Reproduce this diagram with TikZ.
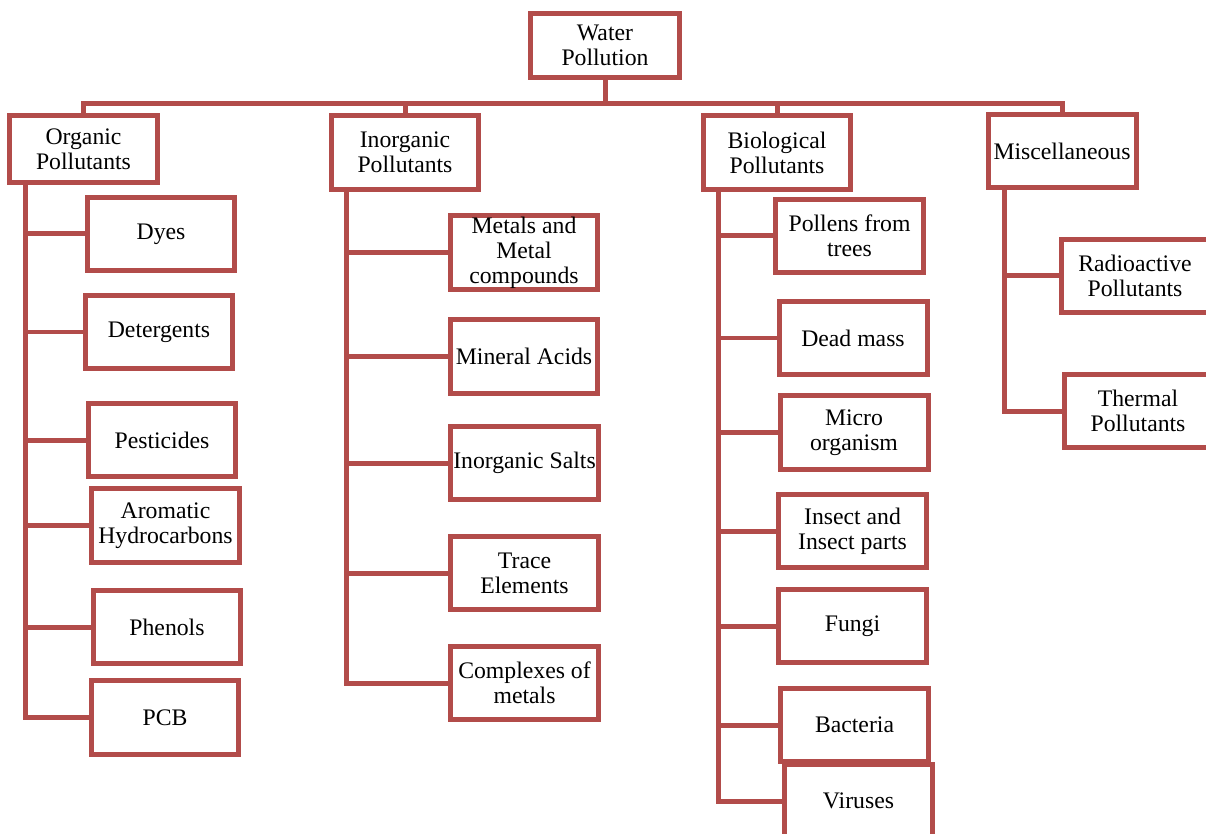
\documentclass[tikz,border=0pt]{standalone}
\usepackage{fontspec}
\setmainfont{Liberation Serif}
\begin{document}
\begin{tikzpicture}[x=0.02cm, y=-0.02cm, line width=0.1cm,
	box/.style={draw=pollred, fill=white, align=center, inner sep=0pt,
		minimum width=2.96cm, minimum height=1.48cm,
		font=\fontsize{13.5}{14.2}\selectfont},
	link/.style={draw=pollred}]
	\definecolor{pollred}{RGB}{178, 76, 74}

	\useasboundingbox (0,0) rectangle (1206,834);
	\clip (0,0) rectangle (1206,834);

	% root
	\node[box, minimum width=3cm, minimum height=1.3cm] (water) at (605,45.5) {Water\\Pollution};

	% groups
	\node[box, minimum height=1.36cm] (org) at (83.5,149) {Organic\\Pollutants};
	\node[box] (ino) at (405,152.5) {Inorganic\\Pollutants};
	\node[box] (bio) at (777,152.5) {Biological\\Pollutants};
	\node[box] (misc) at (1062,151) {Miscellaneous};

	% organic
	\node[box] (dyes) at (161,234) {Dyes};
	\node[box] (deterg) at (159,332) {Detergents};
	\node[box] (pest) at (162,440) {Pesticides};
	\node[box] (arom) at (165.5,525.5) {Aromatic\\Hydrocarbons};
	\node[box] (phen) at (167,627) {Phenols};
	\node[box] (pcb) at (165,717.5) {PCB};

	% inorganic
	\node[box] (metals) at (524,252.5) {Metals and\\Metal\\compounds};
	\node[box] (mineral) at (524,356.5) {Mineral Acids};
	\node[box] (salts) at (524.5,463) {Inorganic Salts};
	\node[box] (trace) at (524.5,573) {Trace\\Elements};
	\node[box] (complex) at (524.5,683) {Complexes of\\metals};

	% biological
	\node[box] (pollen) at (849.5,236) {Pollens from\\trees};
	\node[box] (dead) at (853,338) {Dead mass};
	\node[box] (micro) at (854,432.5) {Micro\\organism};
	\node[box] (insect) at (852.5,531) {Insect and\\Insect parts};
	\node[box] (fungi) at (852.5,626) {Fungi};
	\node[box] (bact) at (854.5,725) {Bacteria};
	\node[box] (virus) at (858.5,801) {Viruses};

	% miscellaneous
	\node[box] (radio) at (1135,276) {Radioactive\\Pollutants};
	\node[box] (thermal) at (1138,411) {Thermal\\Pollutants};

	% top bus
	\coordinate (bus) at (0,103.5);
	\draw[link] (water.south) -- (water.south |- bus);
	\draw[link] (org.north) -- (org.north |- bus) -- (misc.north |- bus) -- (misc.north);
	\draw[link] (ino.north) -- (ino.north |- bus);
	\draw[link] (bio.north) -- (bio.north |- bus);

	% spines
	\coordinate (orgtop) at (25,183);
	\coordinate (inotop) at (346,190);
	\coordinate (biotop) at (718,190);
	\coordinate (misctop) at (1004,188);

	\draw[link] (orgtop) |- (dyes.west) (orgtop) |- (deterg.west) (orgtop) |- (pest.west)
		(orgtop) |- (arom.west) (orgtop) |- (phen.west) (orgtop) |- (pcb.west);
	\draw[link] (inotop) |- (metals.west) (inotop) |- (mineral.west) (inotop) |- (salts.west)
		(inotop) |- (trace.west) (inotop) |- (complex.west);
	\draw[link] (biotop) |- (pollen.west) (biotop) |- (dead.west) (biotop) |- (micro.west)
		(biotop) |- (insect.west) (biotop) |- (fungi.west) (biotop) |- (bact.west)
		(biotop) |- (virus.west);
	\draw[link] (misctop) |- (radio.west) (misctop) |- (thermal.west);
\end{tikzpicture}
\end{document}
